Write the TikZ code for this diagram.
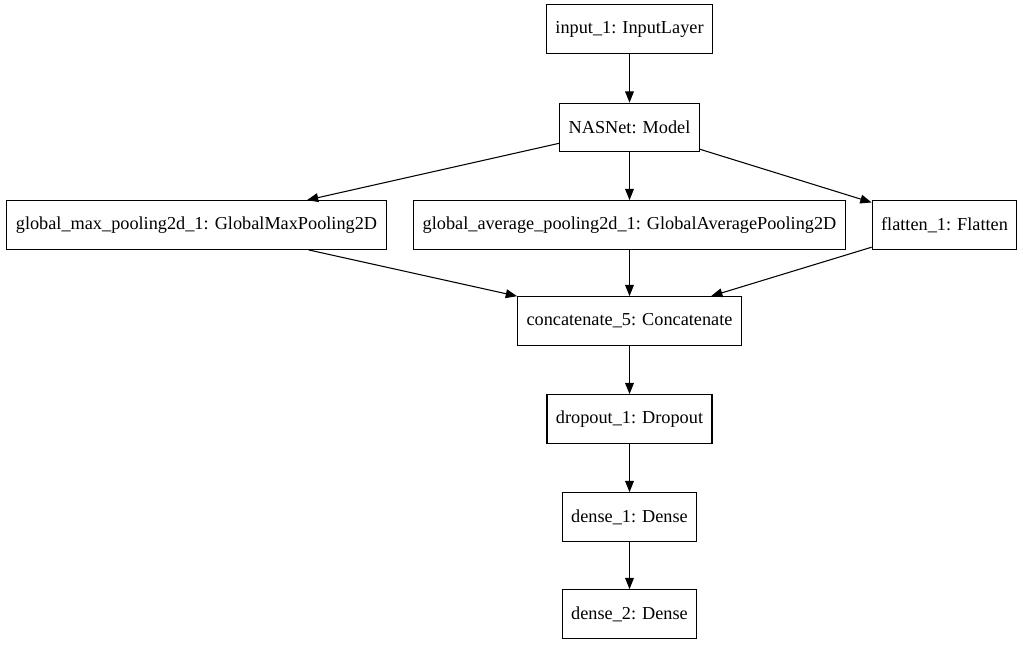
\documentclass[tikz,border=0pt]{standalone}
\usepackage{fontspec}
\setmainfont{Liberation Serif}
\usetikzlibrary{arrows.meta}

\tikzset{
  layer/.style={draw, line width=0.8pt, fill=white, minimum height=36.5pt, inner xsep=6.7pt, font=\fontsize{13.7pt}{16pt}\selectfont},
  conn/.style={line width=0.8pt, -{Triangle[length=8.5pt, width=6.6pt]}}
}

\begin{document}
\begin{tikzpicture}[x=0.75pt, y=-0.75pt]
    \useasboundingbox (0,0) rectangle (1023,644);

    % Layers
    \node[layer] (input) at (629.5,29) {input\_1: InputLayer};
    \node[layer] (nasnet) at (629.5,127.5) {NASNet: Model};
    \node[layer] (gmax) at (196.5,225) {global\_max\_pooling2d\_1: GlobalMaxPooling2D};
    \node[layer] (gavg) at (629.5,225) {global\_average\_pooling2d\_1: GlobalAveragePooling2D};
    \node[layer] (flat) at (944.5,225) {flatten\_1: Flatten};
    \node[layer] (concat) at (629.5,321) {concatenate\_5: Concatenate};
    \node[layer] (drop) at (629.5,419) {dropout\_1: Dropout};
    \node[layer] (dense1) at (629.5,517) {dense\_1: Dense};
    \node[layer] (dense2) at (629.5,614) {dense\_2: Dense};

    % Connections
    \draw[conn] (input) -- (nasnet);
    \draw[conn] (nasnet) -- (gmax);
    \draw[conn] (nasnet) -- (gavg);
    \draw[conn] (nasnet) -- (flat);
    \draw[conn] (gmax) -- (concat);
    \draw[conn] (gavg) -- (concat);
    \draw[conn] (flat) -- (concat);
    \draw[conn] (concat) -- (drop);
    \draw[conn] (drop) -- (dense1);
    \draw[conn] (dense1) -- (dense2);
\end{tikzpicture}
\end{document}
